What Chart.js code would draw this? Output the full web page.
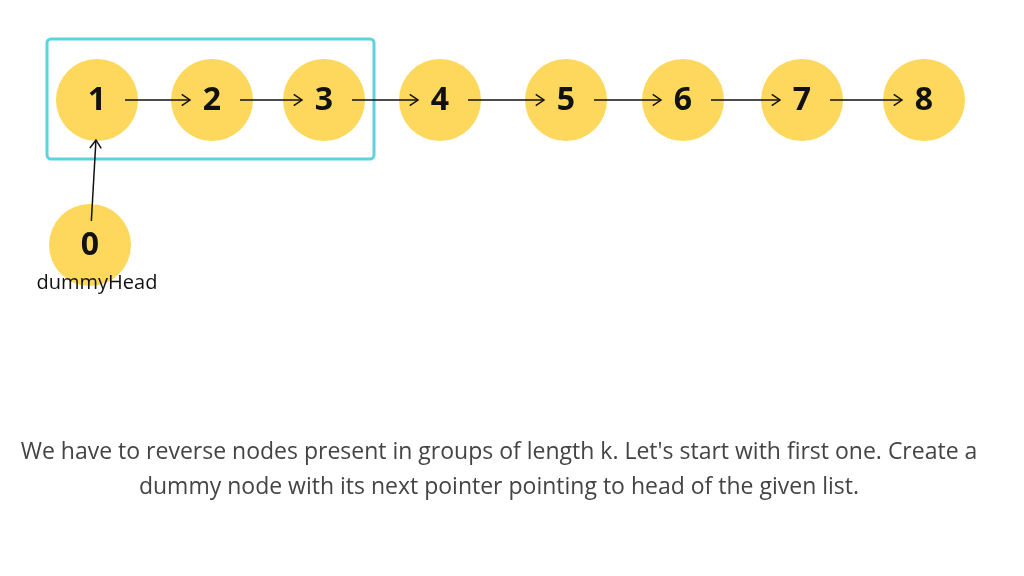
<!DOCTYPE html>
<html>
<head>
<meta charset="utf-8">
<script src="https://cdn.jsdelivr.net/npm/chart.js@4"></script>
<style>
  html, body { margin: 0; padding: 0; background: #fff; }
  #wrap { position: relative; width: 1024px; height: 576px; }
</style>
</head>
<body>
<div id="wrap"><canvas id="diagram"></canvas></div>
<script>
// node data
const nodeLabels = ["1", "2", "3", "4", "5", "6", "7", "8", "0"];
const nodeX = [97, 212, 324, 440, 566, 683, 802, 924, 90];
const nodeY = [100, 100, 100, 100, 100, 100, 100, 100, 245];
// links: [from index, to index]
const links = [[0, 1], [1, 2], [2, 3], [3, 4], [4, 5], [5, 6], [6, 7], [8, 0]];
const groupBox = [47, 39, 374, 159];
const caption = [
  "We have to reverse nodes present in groups of length k. Let's start with first one. Create a",
  "dummy node with its next pointer pointing to head of the given list."
];

const points = nodeLabels.map((l, i) => ({ x: nodeX[i], y: nodeY[i] }));

const diagramPlugin = {
  id: "diagram",
  beforeDatasetsDraw(chart) {
    const { ctx, scales: { x, y } } = chart;
    ctx.save();
    ctx.strokeStyle = "#5fd3dd";
    ctx.lineWidth = 3;
    const x0 = x.getPixelForValue(groupBox[0]), y0 = y.getPixelForValue(groupBox[1]);
    const x1 = x.getPixelForValue(groupBox[2]), y1 = y.getPixelForValue(groupBox[3]);
    ctx.beginPath();
    ctx.roundRect(x0, y0, x1 - x0, y1 - y0, 4);
    ctx.stroke();
    ctx.restore();
  },
  afterDatasetsDraw(chart) {
    const { ctx, scales: { x, y } } = chart;
    ctx.save();
    ctx.strokeStyle = "#111";
    ctx.fillStyle = "#111";
    ctx.lineWidth = 1.5;
    links.forEach(([a, b]) => {
      const ax = x.getPixelForValue(nodeX[a]), ay = y.getPixelForValue(nodeY[a]);
      const bx = x.getPixelForValue(nodeX[b]), by = y.getPixelForValue(nodeY[b]);
      const ang = Math.atan2(by - ay, bx - ax);
      const sx = ax + Math.cos(ang) * 28, sy = ay + Math.sin(ang) * 24;
      const ex = bx - Math.cos(ang) * 22, ey = by - Math.sin(ang) * 40;
      ctx.beginPath();
      ctx.moveTo(sx, sy);
      ctx.lineTo(ex, ey);
      ctx.stroke();
      ctx.beginPath();
      ctx.moveTo(ex - Math.cos(ang - 0.6) * 10, ey - Math.sin(ang - 0.6) * 10);
      ctx.lineTo(ex, ey);
      ctx.lineTo(ex - Math.cos(ang + 0.6) * 10, ey - Math.sin(ang + 0.6) * 10);
      ctx.stroke();
    });
    ctx.textAlign = "center";
    ctx.textBaseline = "middle";
    ctx.font = "bold 32px 'Open Sans', sans-serif";
    nodeLabels.forEach((l, i) => {
      ctx.fillText(l, x.getPixelForValue(nodeX[i]), y.getPixelForValue(nodeY[i]) + 1);
    });
    ctx.font = "20px 'Open Sans', sans-serif";
    ctx.fillText("dummyHead", x.getPixelForValue(97), y.getPixelForValue(283));
    ctx.fillStyle = "#444";
    ctx.font = "23px 'Open Sans', sans-serif";
    ctx.fillText(caption[0], x.getPixelForValue(499), y.getPixelForValue(452));
    ctx.fillText(caption[1], x.getPixelForValue(499), y.getPixelForValue(487));
    ctx.restore();
  }
};

new Chart(document.getElementById("diagram"), {
  type: "scatter",
  data: {
    datasets: [{
      data: points,
      pointRadius: 41,
      pointHoverRadius: 41,
      backgroundColor: "#fdd85d",
      borderWidth: 0,
      clip: false
    }]
  },
  options: {
    responsive: true,
    maintainAspectRatio: false,
    animation: false,
    layout: { padding: 0, autoPadding: false },
    plugins: { legend: { display: false }, tooltip: { enabled: false } },
    scales: {
      x: { type: "linear", min: 0, max: 1024, display: false },
      y: { type: "linear", min: 0, max: 576, reverse: true, display: false }
    }
  },
  plugins: [diagramPlugin]
});
</script>
</body>
</html>
